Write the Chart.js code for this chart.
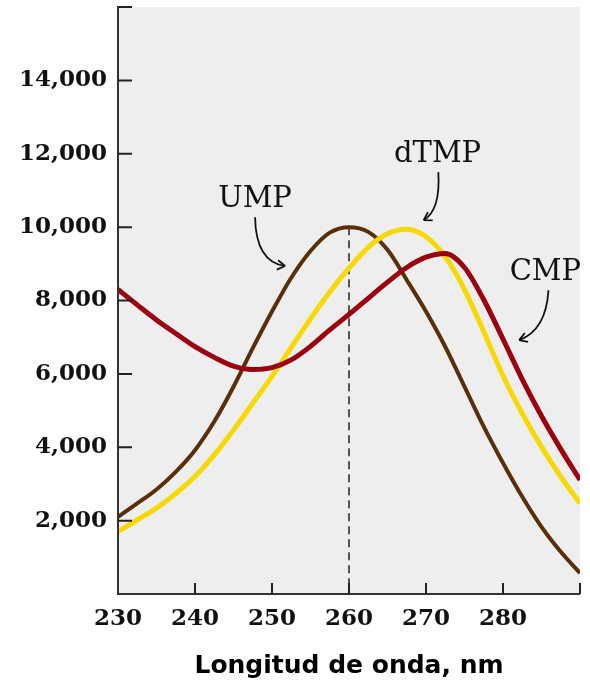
<!DOCTYPE html>
<html>
<head>
<meta charset="utf-8">
<script src="https://cdn.jsdelivr.net/npm/chart.js@4.4.1/dist/chart.umd.min.js"></script>
<style>
  html, body { margin: 0; padding: 0; background: #fff; }
  #wrap { width: 590px; height: 684px; position: relative; }
</style>
</head>
<body>
<div id="wrap"><canvas id="chart"></canvas></div>
<script>
// wavelength grid (nm)
const wavelengths = [230, 232.5, 235, 237.5, 240, 242.5, 245, 247.5, 250, 252.5, 255, 257.5,
  260, 262.5, 265, 267.5, 270, 272.5, 275, 277.5, 280, 282.5, 285, 287.5, 290];

// molar absorption
const ump = [2100, 2470, 2850, 3330, 3920, 4700, 5650, 6700, 7700, 8620, 9350, 9850,
  10000, 9870, 9380, 8560, 7700, 6740, 5650, 4560, 3570, 2650, 1830, 1150, 570];
const dtmp = [1700, 2020, 2340, 2740, 3200, 3790, 4470, 5200, 5930, 6720, 7500, 8230,
  8880, 9450, 9820, 9940, 9740, 9190, 8300, 7150, 5950, 4920, 4010, 3200, 2470];
const cmp = [8300, 7880, 7470, 7100, 6740, 6450, 6210, 6120, 6170, 6380, 6750, 7200,
  7620, 8060, 8500, 8900, 9180, 9280, 8900, 8020, 6950, 5850, 4850, 3950, 3110];

const xTicks = [230, 240, 250, 260, 270, 280];
const yTicks = [2000, 4000, 6000, 8000, 10000, 12000, 14000];
const peakLine = { x: 260, y: 10000 };

// label + curved arrow, in data units
const callouts = [
  { text: 'UMP',  at: [247.8, 10550], from: [247.8, 10270], ctrl: [247.9, 9050],  to: [251.7, 8940] },
  { text: 'dTMP', at: [271.5, 11770], from: [271.6, 11500], ctrl: [271.9, 10460], to: [269.7, 10190] },
  { text: 'CMP',  at: [285.5, 8560],  from: [285.9, 8280],  ctrl: [285.6, 7190],  to: [282.1, 6920] }
];

const pts = ys => wavelengths.map((w, i) => ({ x: w, y: ys[i] }));
const tickFont = { family: 'DejaVu Serif', size: 23, weight: 'bold' };

const frame = {
  id: 'frame',
  beforeDraw(chart) {
    const { ctx, chartArea: a } = chart;
    ctx.save();
    ctx.fillStyle = '#eeeeee';
    ctx.fillRect(a.left, a.top, a.right - a.left, a.bottom - a.top);
    ctx.restore();
  },
  beforeDatasetsDraw(chart) {
    const { ctx, scales: { x, y } } = chart;
    ctx.save();
    ctx.strokeStyle = '#555';
    ctx.lineWidth = 2;
    ctx.setLineDash([8, 5]);
    ctx.beginPath();
    ctx.moveTo(x.getPixelForValue(peakLine.x), y.getPixelForValue(peakLine.y));
    ctx.lineTo(x.getPixelForValue(peakLine.x), y.getPixelForValue(0));
    ctx.stroke();
    ctx.restore();
  },
  afterDatasetsDraw(chart) {
    const { ctx, chartArea: a, scales: { x, y } } = chart;
    ctx.save();
    ctx.strokeStyle = '#333';
    ctx.lineWidth = 2;
    ctx.beginPath();
    ctx.moveTo(a.left, y.getPixelForValue(16000) - 1);
    ctx.lineTo(a.left, a.bottom);
    ctx.lineTo(a.right, a.bottom);
    ctx.stroke();
    ctx.strokeStyle = '#222';
    ctx.beginPath();
    for (let v = 2000; v <= 16000; v += 2000) {
      const py = y.getPixelForValue(v);
      ctx.moveTo(a.left, py);
      ctx.lineTo(a.left + 14, py);
    }
    for (let w = 240; w <= 290; w += 10) {
      const px = x.getPixelForValue(w);
      ctx.moveTo(px, a.bottom);
      ctx.lineTo(px, a.bottom - 11);
    }
    ctx.stroke();

    ctx.fillStyle = '#111';
    ctx.strokeStyle = '#111';
    ctx.font = '29px "DejaVu Serif"';
    ctx.textAlign = 'center';
    ctx.textBaseline = 'alphabetic';
    ctx.lineWidth = 1.8;
    callouts.forEach(c => {
      ctx.fillText(c.text, x.getPixelForValue(c.at[0]), y.getPixelForValue(c.at[1]));
      const p0 = [x.getPixelForValue(c.from[0]), y.getPixelForValue(c.from[1])];
      const p1 = [x.getPixelForValue(c.ctrl[0]), y.getPixelForValue(c.ctrl[1])];
      const p2 = [x.getPixelForValue(c.to[0]), y.getPixelForValue(c.to[1])];
      ctx.beginPath();
      ctx.moveTo(p0[0], p0[1]);
      ctx.quadraticCurveTo(p1[0], p1[1], p2[0], p2[1]);
      ctx.stroke();
      const ang = Math.atan2(p2[1] - p1[1], p2[0] - p1[0]);
      ctx.beginPath();
      [-0.55, 0.55].forEach(d => {
        ctx.moveTo(p2[0], p2[1]);
        ctx.lineTo(p2[0] - 9 * Math.cos(ang + d), p2[1] - 9 * Math.sin(ang + d));
      });
      ctx.stroke();
    });
    ctx.restore();
  }
};

new Chart(document.getElementById('chart'), {
  type: 'line',
  data: {
    datasets: [
      { label: 'CMP', data: pts(cmp), borderColor: '#9b0010', borderWidth: 5 },
      { label: 'dTMP', data: pts(dtmp), borderColor: '#f7d900', borderWidth: 5 },
      { label: 'UMP', data: pts(ump), borderColor: '#5a2e06', borderWidth: 4 }
    ]
  },
  options: {
    responsive: true,
    maintainAspectRatio: false,
    animation: false,
    layout: { padding: { top: 7, right: 10, left: 0, bottom: 0 } },
    elements: {
      point: { radius: 0 },
      line: { tension: 0.4, fill: false, cubicInterpolationMode: 'monotone' }
    },
    scales: {
      x: {
        type: 'linear',
        min: 230,
        max: 290,
        afterBuildTicks: s => { s.ticks = xTicks.map(v => ({ value: v })); },
        afterFit: s => { s.height = 90; s.paddingRight = 0; },
        grid: { display: false, drawTicks: false },
        border: { display: false },
        ticks: { font: tickFont, color: '#111', padding: 11, maxRotation: 0 },
        title: {
          display: true,
          text: 'Longitud de onda, nm',
          font: { family: '"Comic Sans MS", "DejaVu Sans"', size: 25, weight: 'bold' },
          color: '#000',
          padding: { top: 0, bottom: 3 }
        }
      },
      y: {
        min: 0,
        max: 16000,
        afterBuildTicks: s => { s.ticks = yTicks.map(v => ({ value: v })); },
        afterFit: s => { s.width = 118; s.paddingTop = 0; s.paddingBottom = 0; },
        grid: { display: false, drawTicks: false },
        border: { display: false },
        ticks: {
          font: tickFont,
          color: '#111',
          padding: 11,
          callback: v => v.toLocaleString('en-US')
        }
      }
    },
    plugins: {
      legend: { display: false },
      tooltip: { enabled: false }
    }
  },
  plugins: [frame]
});
</script>
</body>
</html>
